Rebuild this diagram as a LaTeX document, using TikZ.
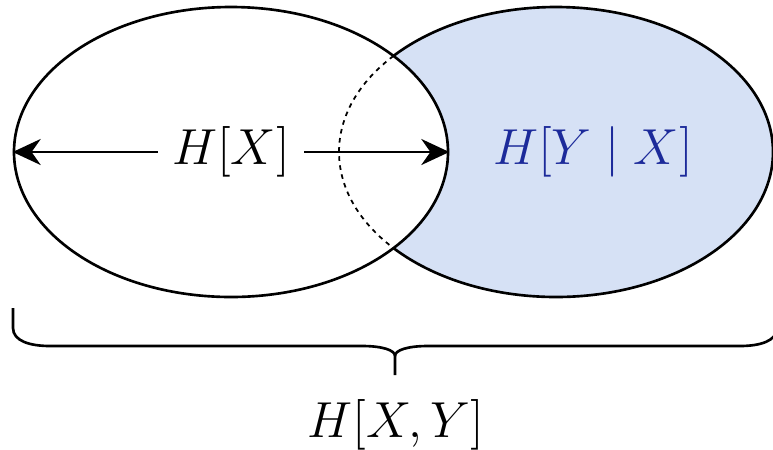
\documentclass[tikz,border=0pt]{standalone}
\usepackage{tikz}
\usetikzlibrary{shapes.geometric,arrows.meta,positioning,decorations.pathreplacing}
\usepackage{xcolor}
\usepackage{amsmath}
\definecolor{condfill}{HTML}{D6E1F5}
\definecolor{condtxt}{HTML}{1C2A9A}
\tikzset{
  setell/.style={ellipse,draw=black,line width=0.75pt,fill=#1,
                 minimum width=4.34cm,minimum height=2.9cm,inner sep=0pt},
  darr/.style={{Stealth[length=0.28cm,width=0.26cm]}-{Stealth[length=0.28cm,width=0.26cm]},
               line width=0.8pt,color=black},
  hidarc/.style={dash pattern=on 1.3pt off 1.3pt,line width=0.5pt},
  brc/.style={line width=0.75pt,line join=round},
  lbl/.style={font=\fontsize{15.4}{18}\selectfont,inner sep=1pt},
}
\begin{document}
\begin{tikzpicture}
  \useasboundingbox (0,0) rectangle (7.73,4.49);

  \node[setell=condfill] (hy) at (5.56,2.97) {};
  \node[setell=white]    (hx) at (2.31,2.97) {};
  \draw[hidarc] ([shift={(138.5:2.17cm and 1.45cm)}]hy.center)
    arc[start angle=138.5,end angle=221.5,x radius=2.17cm,y radius=1.45cm];

  \draw[darr] (hx.west) -- node[lbl,fill=white,inner xsep=4pt] (hxl) {$H[X]$} (hx.east);
  \node[lbl,text=condtxt] (hyl) at (5.93,2.97) {$H[Y \mid X]$};

  \coordinate (bl) at (0.13,1.41);
  \coordinate (br) at (7.77,1.41);
  \coordinate (tip) at (3.95,0.74);
  \draw[brc] (bl) -- (0.13,1.21) .. controls (0.13,1.08) and (0.30,1.03) .. (0.50,1.03)
    -- (3.62,1.03) .. controls (3.82,1.03) and (3.95,0.99) .. (3.95,0.93) -- (tip);
  \draw[brc] (br) -- (7.77,1.21) .. controls (7.77,1.08) and (7.60,1.03) .. (7.40,1.03)
    -- (4.28,1.03) .. controls (4.08,1.03) and (3.95,0.99) .. (3.95,0.93);
  \node[lbl] (hxy) at (3.96,0.24) {$H[X,Y]$};
\end{tikzpicture}
\end{document}
